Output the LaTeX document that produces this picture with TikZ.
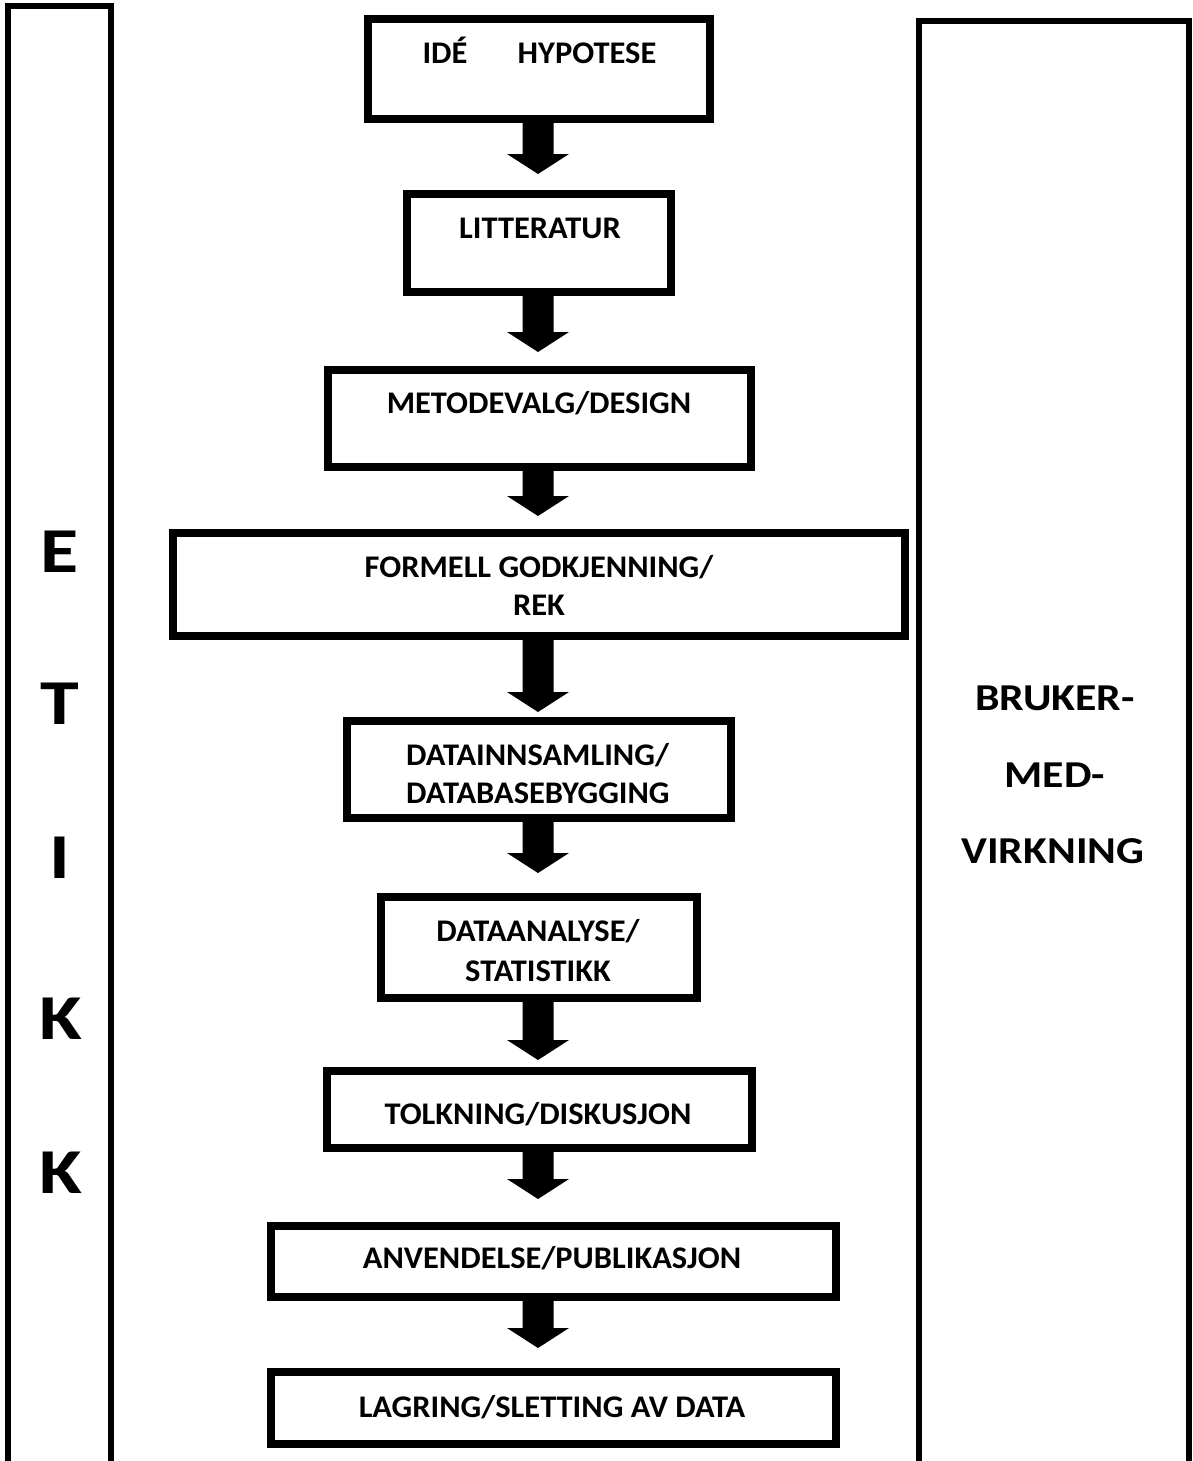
\documentclass[tikz,border=0pt]{standalone}
\usepackage{fontspec}
\setmainfont{Carlito}
\usetikzlibrary{calc}
\tikzset{
  col/.style n args={2}{draw, line width=6pt, inner sep=0pt, minimum width=#1pt, minimum height=#2pt},
  box/.style n args={2}{draw, line width=8pt, inner sep=0pt, minimum width=#1pt, minimum height=#2pt},
  txt/.style={font=\fontsize{31.5}{38}\selectfont\bfseries, anchor=base, inner sep=0pt, xscale=1.03},
  big/.style={font=\fontsize{64}{70}\selectfont\bfseries, anchor=base, inner sep=0pt, xscale=1.22},
  side/.style={font=\fontsize{38}{45}\selectfont\bfseries, anchor=base, inner sep=0pt, xscale=1.15}
}
\newcommand\blockarrow[3]{%
  \fill ($(#1.south -| axis)+(-15.5,0)$) -- ($(#2.north -| axis)+(-15.5,-#3-20)$)
    -- ($(#2.north -| axis)+(-31,-#3-20)$) -- ($(#2.north -| axis)+(0,-#3)$)
    -- ($(#2.north -| axis)+(31,-#3-20)$) -- ($(#2.north -| axis)+(15.5,-#3-20)$)
    -- ($(#1.south -| axis)+(15.5,0)$) -- cycle;}
\begin{document}
\begin{tikzpicture}[x=1pt, y=-1pt]
\useasboundingbox (0,0) rectangle (1193,1461);
\coordinate (axis) at (538,0);
% side columns
\node[col={103}{1469}] (etikk) at (59.5,740.5) {};
\node[col={269.5}{1454}] (bruker) at (1053.75,748) {};
\node[big] (e1) at (60,572) {E};
\node[big] (e2) at (60,724) {T};
\node[big] (e3) at (60,878) {I};
\node[big] (e4) at (61,1039) {K};
\node[big] (e5) at (61,1193) {K};
\node[side] (s1) at (1055,710) {BRUKER-};
\node[side] (s2) at (1055,787) {MED-};
\node[side] (s3) at (1053,863) {VIRKNING};
% boxes
\node[box={342}{100}] (b1) at (539,69) {};
\node[box={264}{98}] (b2) at (539,243) {};
\node[box={423}{97}] (b3) at (539.5,418.5) {};
\node[box={732}{103}] (b4) at (539,584.5) {};
\node[box={384}{97}] (b5) at (539,769.5) {};
\node[box={316}{101}] (b6) at (539,947.5) {};
\node[box={425}{77}] (b7) at (539.5,1109.5) {};
\node[box={565}{71}] (b8) at (553.5,1261.5) {};
\node[box={565}{72}] (b9) at (553.5,1408) {};
% texts
\node[txt] (t1a) at (445,64) {IDÉ};
\node[txt] (t1b) at (587,64) {HYPOTESE};
\node[txt] (t2) at (540,238) {LITTERATUR};
\node[txt] (t3) at (539,413) {METODEVALG/DESIGN};
\node[txt] (t4a) at (539,577) {FORMELL GODKJENNING/};
\node[txt] (t4b) at (539,615) {REK};
\node[txt, anchor=base west] (t5a) at (406,765) {DATAINNSAMLING/};
\node[txt, anchor=base west] (t5b) at (406,803) {DATABASEBYGGING};
\node[txt] (t6a) at (538,941) {DATAANALYSE/};
\node[txt] (t6b) at (538,981) {STATISTIKK};
\node[txt] (t7) at (538,1124) {TOLKNING/DISKUSJON};
\node[txt] (t8) at (552,1268) {ANVENDELSE/PUBLIKASJON};
\node[txt] (t9) at (552,1417) {LAGRING/SLETTING AV DATA};
% arrows
\blockarrow{b1}{b2}{16}
\blockarrow{b2}{b3}{14}
\blockarrow{b3}{b4}{13}
\blockarrow{b4}{b5}{5}
\blockarrow{b5}{b6}{20}
\blockarrow{b6}{b7}{7}
\blockarrow{b7}{b8}{23}
\blockarrow{b8}{b9}{20}
\end{tikzpicture}
\end{document}
